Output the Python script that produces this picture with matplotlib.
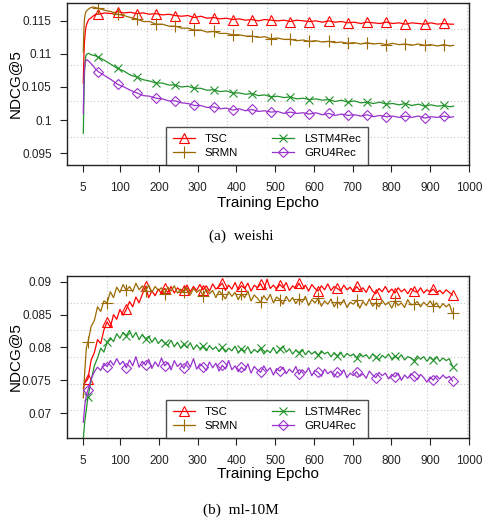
import numpy as np
from matplotlib import pyplot as plt

plt.rcParams['font.family'] = ['Liberation Sans', 'DejaVu Sans']

# ---- (a) weishi : NDCG@5 per training epoch ----
ep_a = [5, 6, 7, 8, 10, 12, 15, 19, 24, 30, 37] + [44 + 16.5 * k for k in range(56)] + [960]

tsc_a = [0.1056, 0.1082, 0.1105, 0.1118, 0.1132, 0.1141, 0.1147, 0.1152, 0.1154, 0.1157, 0.1160,
         0.1160, 0.1162, 0.1161, 0.1164, 0.1162, 0.1163, 0.1161, 0.1162,
         0.1160, 0.1161, 0.1159, 0.1160, 0.1158, 0.1157, 0.1158, 0.1155,
         0.1157, 0.1154, 0.1155, 0.1153, 0.1154, 0.1152, 0.1153, 0.1151,
         0.1152, 0.1150, 0.1152, 0.1151, 0.1150, 0.1151, 0.1149, 0.1151,
         0.1150, 0.1149, 0.1150, 0.1148, 0.1150, 0.1148, 0.1149, 0.1147,
         0.1148, 0.1146, 0.1148, 0.1147, 0.1146, 0.1148, 0.1146, 0.1147,
         0.1145, 0.1147, 0.1146, 0.1145, 0.1147, 0.1145, 0.1146, 0.1145,
         0.1145]
srmn_a = [0.1103, 0.1125, 0.1142, 0.1152, 0.1160, 0.1164, 0.1166, 0.1168, 0.1170, 0.1171, 0.1170,
          0.1169, 0.1166, 0.1164, 0.1160, 0.1158, 0.1155, 0.1153, 0.1149,
          0.1149, 0.1145, 0.1145, 0.1142, 0.1142, 0.1139, 0.1139, 0.1136,
          0.1136, 0.1133, 0.1134, 0.1131, 0.1131, 0.1129, 0.1129, 0.1127,
          0.1127, 0.1125, 0.1126, 0.1123, 0.1124, 0.1122, 0.1122, 0.1120,
          0.1121, 0.1119, 0.1120, 0.1118, 0.1119, 0.1117, 0.1118, 0.1116,
          0.1117, 0.1115, 0.1117, 0.1115, 0.1116, 0.1114, 0.1116, 0.1114,
          0.1115, 0.1113, 0.1115, 0.1113, 0.1114, 0.1112, 0.1114, 0.1112,
          0.1113]
lstm_a = [0.0980, 0.1010, 0.1045, 0.1070, 0.1090, 0.1098, 0.1100, 0.1101, 0.1099, 0.1098, 0.1097,
          0.1095, 0.1090, 0.1084, 0.1078, 0.1074, 0.1068, 0.1065, 0.1061,
          0.1059, 0.1056, 0.1056, 0.1053, 0.1053, 0.1050, 0.1051, 0.1048,
          0.1048, 0.1045, 0.1046, 0.1043, 0.1044, 0.1041, 0.1041, 0.1039,
          0.1040, 0.1037, 0.1038, 0.1035, 0.1036, 0.1034, 0.1035, 0.1032,
          0.1033, 0.1031, 0.1032, 0.1030, 0.1031, 0.1028, 0.1030, 0.1027,
          0.1029, 0.1026, 0.1027, 0.1025, 0.1027, 0.1024, 0.1025, 0.1023,
          0.1025, 0.1022, 0.1024, 0.1021, 0.1023, 0.1021, 0.1022, 0.1020,
          0.1021]
gru_a = [0.1010, 0.1040, 0.1065, 0.1078, 0.1087, 0.1090, 0.1091, 0.1089, 0.1086, 0.1082, 0.1077,
         0.1073, 0.1067, 0.1061, 0.1054, 0.1050, 0.1045, 0.1041, 0.1037,
         0.1036, 0.1033, 0.1032, 0.1029, 0.1029, 0.1026, 0.1025, 0.1022,
         0.1022, 0.1019, 0.1020, 0.1017, 0.1018, 0.1015, 0.1017, 0.1014,
         0.1016, 0.1013, 0.1014, 0.1012, 0.1013, 0.1010, 0.1012, 0.1010,
         0.1011, 0.1009, 0.1011, 0.1008, 0.1010, 0.1007, 0.1009, 0.1007,
         0.1008, 0.1006, 0.1008, 0.1005, 0.1007, 0.1005, 0.1006, 0.1004,
         0.1006, 0.1004, 0.1006, 0.1003, 0.1005, 0.1004, 0.1006, 0.1004,
         0.1005]
marks_a = [11 + 3 * k for k in range(19)]

# ---- (b) ml-10M ----
ep_b = [5, 9, 13] + [17 + 8.25 * k for k in range(115)]

tsc_b = [0.0738, 0.0746, 0.0749,
         0.0752, 0.0781, 0.0792, 0.0812, 0.0806, 0.0827,
         0.0839, 0.0831, 0.0850, 0.0843, 0.0858, 0.0849,
         0.0858, 0.0870, 0.0862, 0.0877, 0.0868, 0.0881,
         0.0893, 0.0876, 0.0886, 0.0879, 0.0889, 0.0882,
         0.0890, 0.0884, 0.0893, 0.0883, 0.0891, 0.0886,
         0.0887, 0.0895, 0.0885, 0.0893, 0.0887, 0.0896,
         0.0888, 0.0894, 0.0886, 0.0897, 0.0889, 0.0893,
         0.0898, 0.0887, 0.0895, 0.0889, 0.0899, 0.0888,
         0.0894, 0.0890, 0.0898, 0.0886, 0.0895, 0.0891,
         0.0897, 0.0888, 0.0904, 0.0890, 0.0895, 0.0889,
         0.0896, 0.0891, 0.0899, 0.0887, 0.0894, 0.0890,
         0.0898, 0.0889, 0.0895, 0.0886, 0.0896, 0.0890,
         0.0886, 0.0894, 0.0888, 0.0897, 0.0887, 0.0893,
         0.0890, 0.0886, 0.0895, 0.0888, 0.0892, 0.0885,
         0.0893, 0.0887, 0.0891, 0.0884, 0.0894, 0.0886,
         0.0882, 0.0890, 0.0885, 0.0893, 0.0884, 0.0889,
         0.0883, 0.0891, 0.0885, 0.0889, 0.0882, 0.0890,
         0.0886, 0.0884, 0.0891, 0.0883, 0.0888, 0.0885,
         0.0889, 0.0883, 0.0887, 0.0882, 0.0888, 0.0884,
         0.0880]
srmn_b = [0.0723, 0.0765, 0.0800,
          0.0808, 0.0832, 0.0841, 0.0862, 0.0855, 0.0871,
          0.0868, 0.0885, 0.0876, 0.0892, 0.0884, 0.0896,
          0.0887, 0.0893, 0.0885, 0.0898, 0.0888, 0.0894,
          0.0886, 0.0895, 0.0884, 0.0893, 0.0887, 0.0891,
          0.0882, 0.0892, 0.0886, 0.0894, 0.0883, 0.0889,
          0.0885, 0.0891, 0.0880, 0.0890, 0.0884, 0.0888,
          0.0879, 0.0889, 0.0882, 0.0887, 0.0876, 0.0886,
          0.0881, 0.0874, 0.0885, 0.0878, 0.0884, 0.0873,
          0.0882, 0.0876, 0.0886, 0.0871, 0.0880, 0.0875,
          0.0869, 0.0879, 0.0872, 0.0881, 0.0868, 0.0877,
          0.0873, 0.0866, 0.0878, 0.0870, 0.0876, 0.0867,
          0.0874, 0.0869, 0.0878, 0.0864, 0.0873, 0.0868,
          0.0875, 0.0863, 0.0871, 0.0866, 0.0874, 0.0862,
          0.0870, 0.0865, 0.0873, 0.0861, 0.0869, 0.0866,
          0.0872, 0.0860, 0.0870, 0.0864, 0.0874, 0.0863,
          0.0868, 0.0862, 0.0872, 0.0865, 0.0869, 0.0860,
          0.0871, 0.0864, 0.0868, 0.0861, 0.0873, 0.0865,
          0.0866, 0.0870, 0.0862, 0.0869, 0.0864, 0.0871,
          0.0863, 0.0868, 0.0860, 0.0867, 0.0862, 0.0866,
          0.0852]
lstm_b = [0.0660, 0.0688, 0.0706,
          0.0724, 0.0750, 0.0772, 0.0784, 0.0799, 0.0793,
          0.0808, 0.0815, 0.0809, 0.0821, 0.0814, 0.0823,
          0.0818, 0.0826, 0.0815, 0.0823, 0.0812, 0.0820,
          0.0813, 0.0817, 0.0808, 0.0815, 0.0806, 0.0812,
          0.0807, 0.0803, 0.0811, 0.0801, 0.0808, 0.0799,
          0.0805, 0.0800, 0.0807, 0.0797, 0.0804, 0.0798,
          0.0802, 0.0795, 0.0803, 0.0797, 0.0801, 0.0794,
          0.0800, 0.0793, 0.0799, 0.0795, 0.0802, 0.0792,
          0.0798, 0.0794, 0.0801, 0.0791, 0.0797, 0.0793,
          0.0799, 0.0790, 0.0796, 0.0792, 0.0800, 0.0791,
          0.0797, 0.0802, 0.0793, 0.0798, 0.0790, 0.0796,
          0.0792, 0.0797, 0.0789, 0.0795, 0.0790, 0.0794,
          0.0788, 0.0795, 0.0790, 0.0793, 0.0786, 0.0792,
          0.0787, 0.0793, 0.0785, 0.0791, 0.0787, 0.0790,
          0.0784, 0.0791, 0.0786, 0.0789, 0.0783, 0.0790,
          0.0786, 0.0781, 0.0788, 0.0784, 0.0790, 0.0782,
          0.0787, 0.0783, 0.0789, 0.0781, 0.0786, 0.0784,
          0.0780, 0.0787, 0.0782, 0.0786, 0.0779, 0.0785,
          0.0781, 0.0786, 0.0779, 0.0784, 0.0780, 0.0783,
          0.0771]
gru_b = [0.0686, 0.0712, 0.0728,
         0.0735, 0.0752, 0.0763, 0.0770, 0.0765, 0.0776,
         0.0771, 0.0780, 0.0773, 0.0783, 0.0774, 0.0779,
         0.0769, 0.0781, 0.0772, 0.0786, 0.0770, 0.0779,
         0.0773, 0.0782, 0.0768, 0.0778, 0.0771, 0.0784,
         0.0772, 0.0777, 0.0766, 0.0780, 0.0771, 0.0776,
         0.0768, 0.0779, 0.0770, 0.0783, 0.0767, 0.0775,
         0.0771, 0.0765, 0.0778, 0.0769, 0.0776, 0.0764,
         0.0773, 0.0767, 0.0780, 0.0766, 0.0772, 0.0763,
         0.0770, 0.0765, 0.0775, 0.0761, 0.0771, 0.0766,
         0.0762, 0.0772, 0.0764, 0.0769, 0.0758, 0.0768,
         0.0764, 0.0770, 0.0760, 0.0767, 0.0762, 0.0771,
         0.0759, 0.0766, 0.0761, 0.0769, 0.0757, 0.0765,
         0.0762, 0.0756, 0.0767, 0.0760, 0.0764, 0.0755,
         0.0763, 0.0758, 0.0766, 0.0754, 0.0761, 0.0757,
         0.0763, 0.0756, 0.0760, 0.0753, 0.0764, 0.0758,
         0.0754, 0.0762, 0.0757, 0.0761, 0.0752, 0.0759,
         0.0755, 0.0761, 0.0750, 0.0758, 0.0753, 0.0760,
         0.0756, 0.0751, 0.0759, 0.0754, 0.0747, 0.0755,
         0.0750, 0.0757, 0.0752, 0.0758, 0.0753, 0.0756,
         0.0749]
marks_b = [3 + 6 * k for k in range(20)]

xticks = [5, 100, 200, 300, 400, 500, 600, 700, 800, 900, 1000]
yticks_a = [0.095, 0.1, 0.105, 0.11, 0.115]
yticks_b = [0.07, 0.075, 0.08, 0.085, 0.09]
# dotted grid sits off the tick positions in the original
xgrid = [67, 170, 273, 376, 479, 582, 685, 788, 891, 994]
ygrid_a = [0.0975, 0.1029, 0.1083, 0.1137]
ygrid_b = [0.0704, 0.0745, 0.0786, 0.0827, 0.0868]

names = ["TSC", "SRMN", "LSTM4Rec", "GRU4Rec"]
colors = ["#FF0000", "#9C6A00", "#22922B", "#9932CC"]
markers = ["^", "+", "x", "D"]
msizes = [6.5, 8, 6, 5.5]

W, H = 482, 527
fig = plt.figure(figsize=(W / 100, H / 100), dpi=100)


def draw(box, ep, series, marks, ylim, yticks, ygrid, caption, cap_y, xl_y):
    l, t, r, b = box
    ax = fig.add_axes([l / W, 1 - b / H, (r - l) / W, (b - t) / H])
    for g in xgrid:
        ax.axvline(g, color="#C8C8C8", lw=0.8, ls=(0, (1, 2)), zorder=0)
    for g in ygrid:
        ax.axhline(g, color="#C8C8C8", lw=0.8, ls=(0, (1, 2)), zorder=0)
    for vals, name, c, m, ms in zip(series, names, colors, markers, msizes):
        ax.plot(ep, vals, color=c, lw=0.9, label=name, marker=m, markevery=marks,
                markersize=ms, markerfacecolor="none", markeredgecolor=c, markeredgewidth=0.8)
    ax.set_xlim(-37, 1000)
    ax.set_ylim(*ylim)
    ax.set_xticks(xticks)
    ax.set_xticklabels([str(x) for x in xticks])
    ax.set_yticks(yticks)
    ax.set_yticklabels(["%g" % v for v in yticks])
    ax.tick_params(direction="out", length=5, width=0.8, labelsize=8.5, colors="#222222")
    ax.tick_params(axis="x", pad=7)
    ax.tick_params(axis="y", pad=6)
    for s in ax.spines.values():
        s.set_linewidth(1.0)
        s.set_color("#222222")
    leg = ax.legend(ncol=2, loc="lower center", bbox_to_anchor=(0.4975, 0.0), fontsize=8.2,
                    frameon=True, fancybox=False, borderaxespad=0, handlelength=1.9,
                    handletextpad=0.9, columnspacing=3.0, labelspacing=0.3, borderpad=0.65)
    leg.get_frame().set_edgecolor("#222222")
    leg.get_frame().set_linewidth(1.0)
    fig.text(268 / W, 1 - xl_y / H, "Training Epcho", ha="center", va="center", fontsize=11)
    fig.text(15 / W, 1 - (t + b) / 2 / H, "NDCG@5", ha="center", va="center", rotation=90, fontsize=11)
    fig.text(241 / W, 1 - cap_y / H, caption, ha="center", va="center", fontsize=11,
             family=["Liberation Serif", "DejaVu Serif"])
    return ax


draw((67, 3, 469, 165), ep_a, [tsc_a, srmn_a, lstm_a, gru_a], marks_a,
     (0.0932, 0.1177), yticks_a, ygrid_a, "(a)  weishi", 236, 203)
draw((67, 276, 469, 438), ep_b, [tsc_b, srmn_b, lstm_b, gru_b], marks_b,
     (0.0662, 0.0909), yticks_b, ygrid_b, "(b)  ml-10M", 510, 474)

fig.savefig("out.png", dpi=100)
